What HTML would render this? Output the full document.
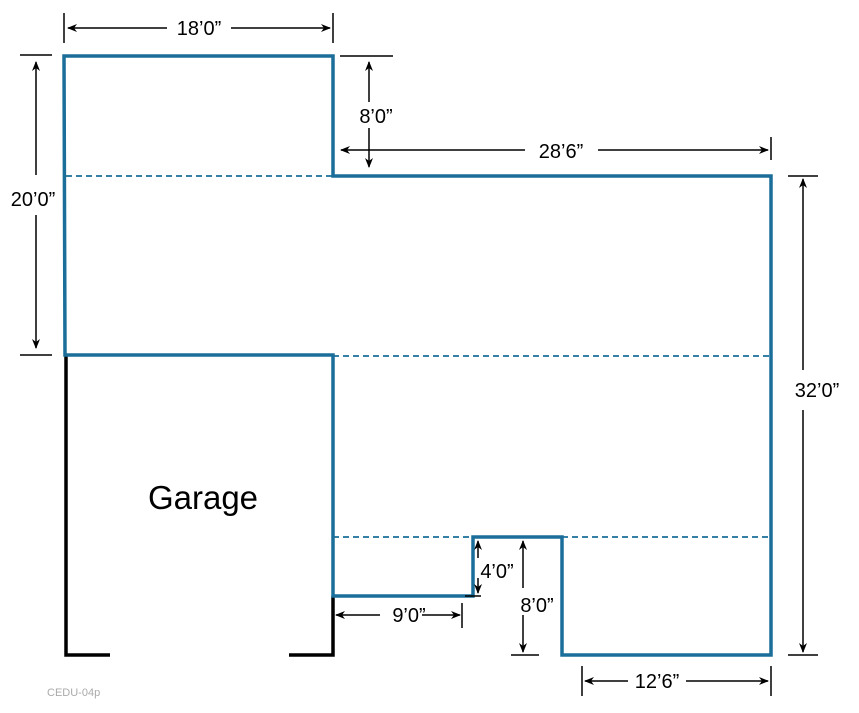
<!DOCTYPE html>
<html><head><style>body{margin:0;background:#fff}svg{display:block}</style></head><body>
<svg width="859" height="713" viewBox="0 0 859 713" xmlns="http://www.w3.org/2000/svg" font-family="Liberation Sans, sans-serif">
<defs><marker id="a" markerWidth="10" markerHeight="8" refX="9" refY="4" orient="auto-start-reverse" markerUnits="userSpaceOnUse"><path d="M0,0 L10,4 L0,8 L3,4 Z" fill="#000"/></marker></defs>
<g stroke="#1a6e99" stroke-width="1.8" stroke-dasharray="6,4" fill="none">
<line x1="66" y1="176" x2="333" y2="176"/>
<line x1="333" y1="356" x2="771" y2="356"/>
<line x1="333" y1="537" x2="473" y2="537"/>
<line x1="562" y1="537" x2="771" y2="537"/>
</g>
<g stroke="#000" stroke-width="3.5" fill="none">
<polyline points="110,655 66,655 66,355"/>
<polyline points="289,655 333,655 333,596"/>
</g>
<polygon points="64,56 333,56 333,176 771,176 771,655 562,655 562,537 473,537 473,596 333,596 333,355 65,355" fill="none" stroke="#1a6e99" stroke-width="3.5"/>
<g stroke="#000" stroke-width="1.5" fill="none">
<line x1="64" y1="13" x2="64" y2="43"/><line x1="333" y1="13" x2="333" y2="43"/>
<line x1="68" y1="28" x2="167" y2="28" marker-start="url(#a)"/><line x1="231" y1="28" x2="330" y2="28" marker-end="url(#a)"/>
<line x1="20" y1="55" x2="52" y2="55"/><line x1="20" y1="355" x2="52" y2="355"/>
<line x1="36" y1="62" x2="36" y2="175" marker-start="url(#a)"/><line x1="36" y1="215" x2="36" y2="348" marker-end="url(#a)"/>
<line x1="340" y1="56" x2="393" y2="56"/>
<line x1="369" y1="62" x2="369" y2="102" marker-start="url(#a)"/><line x1="369" y1="128" x2="369" y2="167" marker-end="url(#a)"/>
<line x1="341" y1="150" x2="525" y2="150" marker-start="url(#a)"/><line x1="598" y1="150" x2="768" y2="150" marker-end="url(#a)"/>
<line x1="771" y1="137" x2="771" y2="160"/>
<line x1="788" y1="176" x2="818" y2="176"/><line x1="788" y1="655" x2="818" y2="655"/>
<line x1="803" y1="179" x2="803" y2="370" marker-start="url(#a)"/><line x1="803" y1="410" x2="803" y2="652" marker-end="url(#a)"/>
<line x1="465" y1="596" x2="481" y2="596"/>
<line x1="478" y1="541" x2="478" y2="558" marker-start="url(#a)"/><line x1="478" y1="578" x2="478" y2="593" marker-end="url(#a)"/>
<line x1="511" y1="655" x2="539" y2="655"/>
<line x1="523" y1="541" x2="523" y2="588" marker-start="url(#a)"/><line x1="523" y1="615" x2="523" y2="652" marker-end="url(#a)"/>
<line x1="462" y1="603" x2="462" y2="628"/>
<line x1="336" y1="615" x2="380" y2="615" marker-start="url(#a)"/><line x1="422" y1="615" x2="460" y2="615" marker-end="url(#a)"/>
<line x1="582" y1="666" x2="582" y2="696"/><line x1="771" y1="666" x2="771" y2="696"/>
<line x1="585" y1="681" x2="628" y2="681" marker-start="url(#a)"/><line x1="686" y1="681" x2="768" y2="681" marker-end="url(#a)"/>
</g>
<g font-size="20" fill="#000" text-anchor="middle">
<text x="199" y="35">18’0”</text>
<text x="33" y="206">20’0”</text>
<text x="376" y="123">8’0”</text>
<text x="561" y="158">28’6”</text>
<text x="817" y="397">32’0”</text>
<text x="497" y="578">4’0”</text>
<text x="537" y="612">8’0”</text>
<text x="409" y="622">9’0”</text>
<text x="657" y="688">12’6”</text>
</g>
<text x="203" y="509" font-size="33" text-anchor="middle" fill="#000">Garage</text>
<text x="47" y="696" font-size="11" fill="#aaa">CEDU-04p</text>
</svg>
</body></html>
